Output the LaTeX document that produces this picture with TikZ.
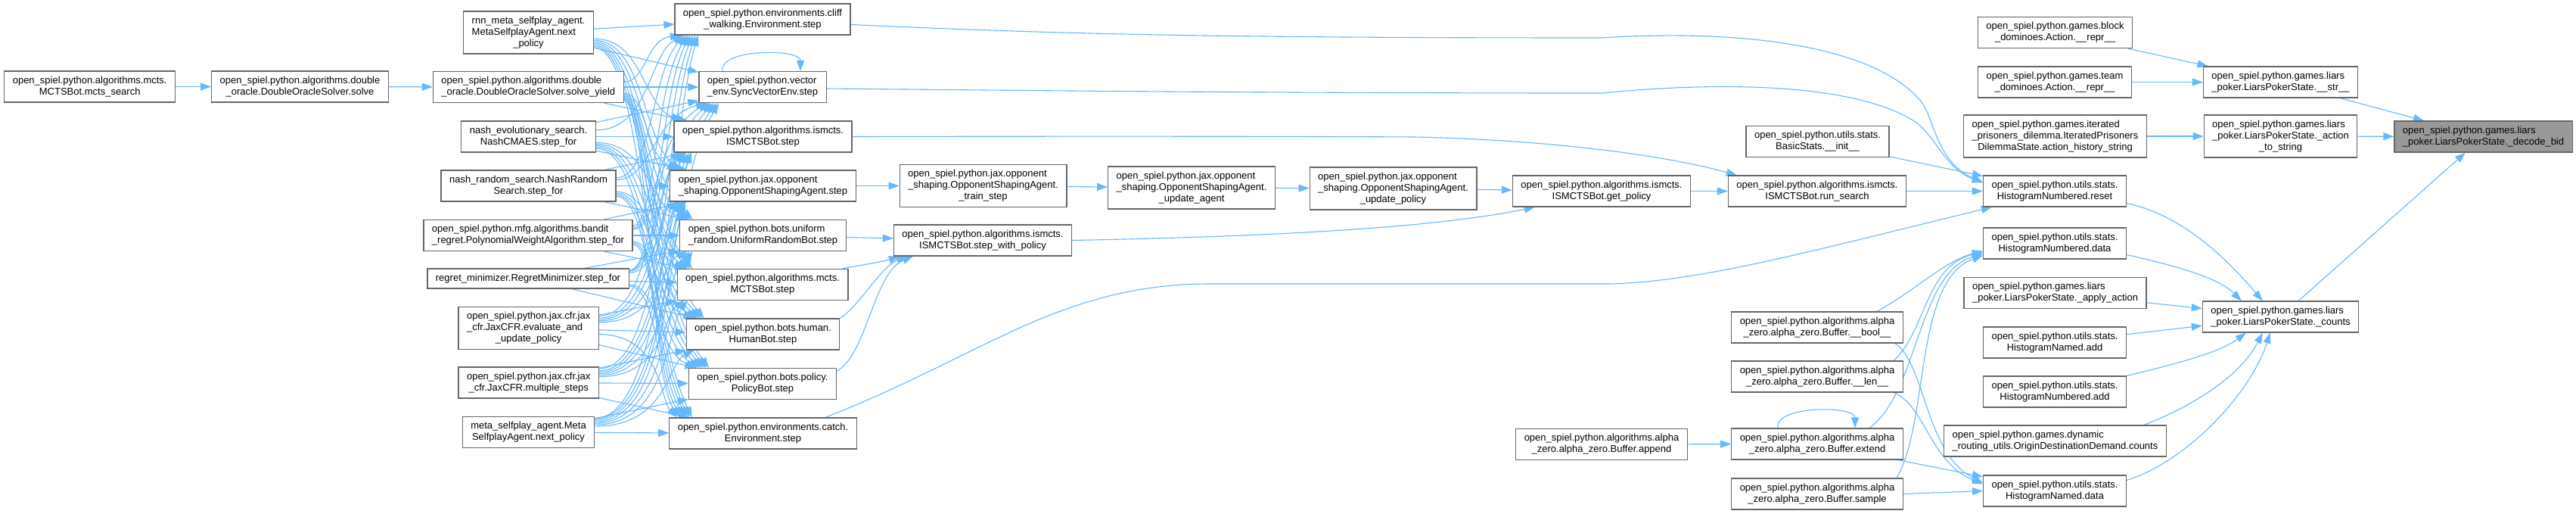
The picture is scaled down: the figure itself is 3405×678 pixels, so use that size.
\documentclass[tikz,border=0pt]{standalone}
\usepackage{fontspec}
\setmainfont{Liberation Sans}
\usepackage{xcolor}
\definecolor{DoxBlue}{HTML}{63B8FF}
\definecolor{DoxGray}{HTML}{666666}
\definecolor{DoxFocus}{HTML}{999999}
\usepackage{tikz}
\usetikzlibrary{arrows.meta, calc, backgrounds}
\newcommand{\lblone}[1]{\begin{tabular}{@{}c@{}}#1\end{tabular}}
\newcommand{\lbltwo}[2]{\begin{tabular}{@{}l@{}}#1\\\multicolumn{1}{@{}c@{}}{#2}\end{tabular}}
\newcommand{\lblthree}[3]{\begin{tabular}{@{}l@{}}#1\\#2\\\multicolumn{1}{@{}c@{}}{#3}\end{tabular}}

\begin{document}
\begin{tikzpicture}[
  x=1pt, y=-1pt,
  font=\fontsize{13}{15}\selectfont,
  fn/.style={draw=DoxGray, fill=white, line width=1.2pt, rectangle,
             inner xsep=11pt, inner ysep=5.5pt},
  focus/.style={fn, fill=DoxFocus},
  arr/.style={-{Triangle[length=14pt, width=10pt]}, DoxBlue, line width=1.1pt},
]
\useasboundingbox (0,0) rectangle (3405,678);

\node[fn] (mctssearch)  at (118.7,114.5) {\lbltwo{open\_spiel.python.algorithms.mcts.}{MCTSBot.mcts\_search}};
\node[fn] (dosolve)     at (396.5,114.5) {\lbltwo{open\_spiel.python.algorithms.double}{\_oracle.DoubleOracleSolver.solve}};

\node[fn] (rnnmeta)     at (698.5,43)    {\lblthree{rnn\_meta\_selfplay\_agent.}{MetaSelfplayAgent.next}{\_policy}};
\node[fn] (solveyield)  at (698.3,115)   {\lbltwo{open\_spiel.python.algorithms.double}{\_oracle.DoubleOracleSolver.solve\_yield}};
\node[fn] (nashevo)     at (698.5,180.5) {\lbltwo{nash\_evolutionary\_search.}{NashCMAES.step\_for}};
\node[fn] (nashrand)    at (698.5,245.5) {\lbltwo{nash\_random\_search.NashRandom}{Search.step\_for}};
\node[fn] (bandit)      at (698,311)     {\lbltwo{open\_spiel.python.mfg.algorithms.bandit}{\_regret.PolynomialWeightAlgorithm.step\_for}};
\node[fn] (regret)      at (698,368)     {\lblone{regret\_minimizer.RegretMinimizer.step\_for}};
\node[fn] (evalupd)     at (698.7,433.5) {\lblthree{open\_spiel.python.jax.cfr.jax}{\_cfr.JaxCFR.evaluate\_and}{\_update\_policy}};
\node[fn] (multisteps)  at (698.7,505.5) {\lbltwo{open\_spiel.python.jax.cfr.jax}{\_cfr.JaxCFR.multiple\_steps}};
\node[fn] (metanext)    at (698.5,571)   {\lbltwo{meta\_selfplay\_agent.Meta}{SelfplayAgent.next\_policy}};

\node[fn] (cliff)       at (1008,25.5)   {\lbltwo{open\_spiel.python.environments.cliff}{\_walking.Environment.step}};
\node[fn] (vecstep)     at (1008,115)    {\lbltwo{open\_spiel.python.vector}{\_env.SyncVectorEnv.step}};
\node[fn] (ismctsstep)  at (1008.5,180.5){\lbltwo{open\_spiel.python.algorithms.ismcts.}{ISMCTSBot.step}};
\node[fn] (osastep)     at (1008.5,245.5){\lbltwo{open\_spiel.python.jax.opponent}{\_shaping.OpponentShapingAgent.step}};
\node[fn] (uniformstep) at (1008.5,311)  {\lbltwo{open\_spiel.python.bots.uniform}{\_random.UniformRandomBot.step}};
\node[fn] (mctsstep)    at (1008,376)    {\lbltwo{open\_spiel.python.algorithms.mcts.}{MCTSBot.step}};
\node[fn] (humanstep)   at (1008.5,441.5){\lbltwo{open\_spiel.python.bots.human.}{HumanBot.step}};
\node[fn] (policystep)  at (1008,507)    {\lbltwo{open\_spiel.python.bots.policy.}{PolicyBot.step}};
\node[fn] (catchstep)   at (1008.5,572.5){\lbltwo{open\_spiel.python.environments.catch.}{Environment.step}};

\node[fn] (trainstep)   at (1299.5,245.5){\lblthree{open\_spiel.python.jax.opponent}{\_shaping.OpponentShapingAgent.}{\_train\_step}};
\node[fn] (stepwp)      at (1299,317.5)  {\lbltwo{open\_spiel.python.algorithms.ismcts.}{ISMCTSBot.step\_with\_policy}};
\node[fn] (updagent)    at (1575,248)    {\lblthree{open\_spiel.python.jax.opponent}{\_shaping.OpponentShapingAgent.}{\_update\_agent}};
\node[fn] (updpolicy)   at (1841.5,249)  {\lblthree{open\_spiel.python.jax.opponent}{\_shaping.OpponentShapingAgent.}{\_update\_policy}};
\node[fn] (getpolicy)   at (2117,252.5)  {\lbltwo{open\_spiel.python.algorithms.ismcts.}{ISMCTSBot.get\_policy}};
\node[fn] (bufappend)   at (2117,587)    {\lbltwo{open\_spiel.python.algorithms.alpha}{\_zero.alpha\_zero.Buffer.append}};

\node[fn] (basicinit)   at (2402.5,187)  {\lbltwo{open\_spiel.python.utils.stats.}{BasicStats.\_\_init\_\_}};
\node[fn] (runsearch)   at (2402,252.5)  {\lbltwo{open\_spiel.python.algorithms.ismcts.}{ISMCTSBot.run\_search}};
\node[fn] (bufbool)     at (2402,432.5)  {\lbltwo{open\_spiel.python.algorithms.alpha}{\_zero.alpha\_zero.Buffer.\_\_bool\_\_}};
\node[fn] (buflen)      at (2402,497.5)  {\lbltwo{open\_spiel.python.algorithms.alpha}{\_zero.alpha\_zero.Buffer.\_\_len\_\_}};
\node[fn] (bufextend)   at (2402,586.5)  {\lbltwo{open\_spiel.python.algorithms.alpha}{\_zero.alpha\_zero.Buffer.extend}};
\node[fn] (bufsample)   at (2402,652.5)  {\lbltwo{open\_spiel.python.algorithms.alpha}{\_zero.alpha\_zero.Buffer.sample}};

\node[fn] (blockrepr)   at (2716.5,43)   {\lbltwo{open\_spiel.python.games.block}{\_dominoes.Action.\_\_repr\_\_}};
\node[fn] (teamrepr)    at (2716,108.5)  {\lbltwo{open\_spiel.python.games.team}{\_dominoes.Action.\_\_repr\_\_}};
\node[fn] (ipdhist)     at (2716.5,180)  {\lblthree{open\_spiel.python.games.iterated}{\_prisoners\_dilemma.IteratedPrisoners}{DilemmaState.action\_history\_string}};
\node[fn] (hnumreset)   at (2716,252.5)  {\lbltwo{open\_spiel.python.utils.stats.}{HistogramNumbered.reset}};
\node[fn] (hnumdata)    at (2716,321.5)  {\lbltwo{open\_spiel.python.utils.stats.}{HistogramNumbered.data}};
\node[fn] (applyaction) at (2716.5,387)  {\lbltwo{open\_spiel.python.games.liars}{\_poker.LiarsPokerState.\_apply\_action}};
\node[fn] (hnamedadd)   at (2716,452.5)  {\lbltwo{open\_spiel.python.utils.stats.}{HistogramNamed.add}};
\node[fn] (hnumadd)     at (2716,517.5)  {\lbltwo{open\_spiel.python.utils.stats.}{HistogramNumbered.add}};
\node[fn] (odcounts)    at (2716.5,582.5){\lbltwo{open\_spiel.python.games.dynamic}{\_routing\_utils.OriginDestinationDemand.counts}};
\node[fn] (hnameddata)  at (2716,648.5)  {\lbltwo{open\_spiel.python.utils.stats.}{HistogramNamed.data}};

\node[fn] (lpstr)       at (3014.5,108.5){\lbltwo{open\_spiel.python.games.liars}{\_poker.LiarsPokerState.\_\_str\_\_}};
\node[fn] (lpactstr)    at (3014.5,180)  {\lblthree{open\_spiel.python.games.liars}{\_poker.LiarsPokerState.\_action}{\_to\_string}};
\node[fn] (lpcounts)    at (3014.5,418.5){\lbltwo{open\_spiel.python.games.liars}{\_poker.LiarsPokerState.\_counts}};
\node[focus] (decodebid) at (3282.5,180.5){\lbltwo{open\_spiel.python.games.liars}{\_poker.LiarsPokerState.\_decode\_bid}};

\begin{scope}[on background layer]
\draw[arr] (mctssearch) -- (dosolve);
\draw[arr] (dosolve) -- (solveyield);

% every step_for style caller reaches every step()
\coordinate (chan) at (866,0);
\foreach \src/\ys/\hs [count=\idx] in {rnnmeta/43/28, solveyield/115/20.5, nashevo/180.5/20.5,
    nashrand/245.5/20.5, bandit/311/20.5, regret/368/13, evalupd/433.5/28,
    multisteps/505.5/20.5, metanext/571/20.5}
  \foreach \tgt/\yt in {cliff/25.5, vecstep/115, ismctsstep/180.5, osastep/245.5,
      uniformstep/311, mctsstep/376, humanstep/441.5, policystep/507, catchstep/572.5} {
    \pgfmathsetmacro{\dy}{\yt-\ys}
    \pgfmathtruncatemacro{\far}{abs(\dy)>80}
    \ifnum\far=0
      \draw[arr] (\src) -- (\tgt);
    \else
      \pgfmathtruncatemacro{\sg}{sign(\dy)}
      \pgfmathsetmacro{\ds}{\sg*min(4+0.03*abs(\dy),\hs-2)}
      \pgfmathsetmacro{\bn}{-\sg*0.3*abs(\dy)}
      \pgfmathsetmacro{\mx}{4+min(0.05*abs(\dy),30)}
      \pgfmathsetmacro{\cx}{4*(\idx-5)}
      \ifnum\sg>0 \def\ea{north west}\else\def\ea{south west}\fi
      \draw[arr] ($(\src.east)+(0,\ds)$) .. controls ($(chan |- \src.east)+(\cx,\ds)$)
        and ($(chan |- \tgt.west)+(\cx,\bn)$) .. ($(\tgt.\ea)+(\mx,0)$);
    \fi
  }
\draw[arr] ($(vecstep.north)+(-53,0)$) .. controls +(-5,-30) and +(0,-30) .. ($(vecstep.north)+(50,0)$);

\draw[arr] (osastep) -- (trainstep);
\draw[arr] (trainstep) -- (updagent);
\draw[arr] (updagent) -- (updpolicy);
\draw[arr] (updpolicy) -- (getpolicy);
\draw[arr] (uniformstep) -- (stepwp);
\draw[arr] ($(mctsstep.north east)+(-8,0)$) .. controls (1140,350) and (1170,345) .. ($(stepwp.south west)+(8,0)$);
\draw[arr] (humanstep.north east) .. controls (1135,405) and (1165,352) .. ($(stepwp.south west)+(18,0)$);
\draw[arr] ($(policystep.east)+(0,-17)$) .. controls (1145,470) and (1155,360) .. ($(stepwp.south west)+(26,0)$);
\draw[arr] (stepwp.east) .. controls (1700,312) and (1900,300) .. ($(getpolicy.south west)+(30,0)$);
\draw[arr] (getpolicy) -- (runsearch);
\draw[arr] (ismctsstep.east) .. controls (1400,180) and (1700,180) .. (1870,181)
  .. controls (2050,185) and (2200,205) .. ($(runsearch.north west)+(12,0)$);

\draw[arr] ($(cliff.east)+(0,7)$) .. controls (1400,45) and (1600,50) .. (2117,50)
  .. controls (2300,38) and (2480,60) .. (2540,135)
  .. controls (2556,155) and (2560,215) .. ($(hnumreset.west)+(0,-12)$);
\draw[arr] ($(vecstep.east)+(0,2)$) .. controls (1400,120) and (1700,123) .. (2117,123)
  .. controls (2300,105) and (2460,115) .. (2530,160)
  .. controls (2558,178) and (2570,222) .. ($(hnumreset.west)+(0,-11)$);
\draw[arr] ($(catchstep.north east)+(-42,0)$) .. controls (1300,470) and (1400,375) .. (1600,375)
  -- (2128,375) .. controls (2250,372) and (2400,330) .. ($(hnumreset.south west)+(12,0)$);
\draw[arr] (basicinit) -- (hnumreset);
\draw[arr] (runsearch) -- (hnumreset);

\draw[arr] (bufappend) -- (bufextend);
\draw[arr] ($(bufextend.north)+(-52,0)$) .. controls +(-5,-30) and +(0,-30) .. ($(bufextend.north)+(50,0)$);
\draw[arr] ($(bufbool.north east)+(-35,0)$) .. controls (2530,385) and (2570,345) .. ($(hnumdata.west)+(0,10)$);
\draw[arr] ($(buflen.north east)+(-13,0)$) .. controls (2545,440) and (2545,350) .. ($(hnumdata.west)+(0,12)$);
\draw[arr] ($(bufextend.north east)+(-45,0)$) .. controls (2535,520) and (2535,360) .. ($(hnumdata.west)+(0,14)$);
\draw[arr] ($(bufsample.north east)+(-9,0)$) .. controls (2550,560) and (2530,370) .. ($(hnumdata.west)+(0,16)$);
\draw[arr] ($(bufbool.south east)+(-11,0)$) .. controls (2545,480) and (2545,600) .. ($(hnameddata.west)+(0,-11)$);
\draw[arr] ($(buflen.south east)+(-13,0)$) .. controls (2545,535) and (2550,610) .. ($(hnameddata.west)+(0,-9)$);
\draw[arr] (bufextend) -- (hnameddata);
\draw[arr] (bufsample.east) -- (hnameddata.west);

\draw[arr] (blockrepr) -- (lpstr);
\draw[arr] (teamrepr) -- (lpstr);
\draw[arr] (ipdhist) -- (lpactstr);
\draw[arr] ($(hnumreset.east)+(0,16)$) .. controls (2890,285) and (2950,350) .. ($(lpcounts.north west)+(80,0)$);
\draw[arr] ($(hnumdata.east)+(0,15)$) .. controls (2870,350) and (2930,365) .. ($(lpcounts.north west)+(52,0)$);
\draw[arr] (applyaction) -- (lpcounts);
\draw[arr] (hnamedadd) -- (lpcounts);
\draw[arr] (hnumadd.north east) .. controls (2880,480) and (2935,465) .. ($(lpcounts.south west)+(58,0)$);
\draw[arr] ($(odcounts.north east)+(-30,0)$) .. controls (2890,540) and (2960,500) .. ($(lpcounts.south west)+(80,0)$);
\draw[arr] ($(hnameddata.east)+(0,-14)$) .. controls (2890,610) and (2975,520) .. ($(lpcounts.south west)+(90,0)$);

\draw[arr] (lpstr) -- (decodebid);
\draw[arr] (lpactstr) -- (decodebid);
\draw[arr] (lpcounts) -- (decodebid);
\end{scope}
\end{tikzpicture}
\end{document}
